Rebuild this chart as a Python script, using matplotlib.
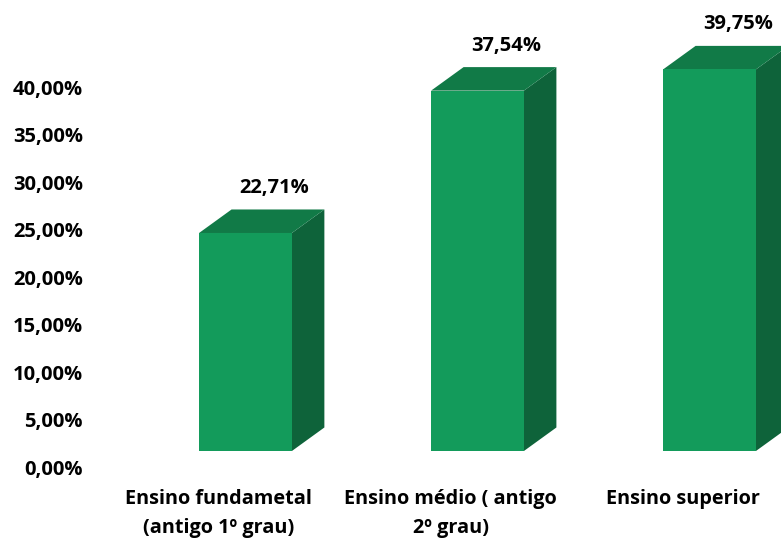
import matplotlib.pyplot as plt
from matplotlib.patches import Polygon, Rectangle

plt.rcParams["font.family"] = ["Open Sans", "DejaVu Sans"]

categories = [
    "Ensino fundametal\n(antigo 1º grau)",
    "Ensino médio ( antigo\n2º grau)",
    "Ensino superior",
]
values = [22.71, 37.54, 39.75]
tick_values = [0, 5, 10, 15, 20, 25, 30, 35, 40]

FRONT = "#139b5b"
TOP = "#117a47"
SIDE = "#0e633a"
BAR_W = 0.4
DEPTH_X = 0.14
DEPTH_Y = 2.45

fig = plt.figure(figsize=(7.81, 5.40), dpi=100)

# bars, full-figure axes with limits picked so the front faces land in place
ax = fig.add_axes([0, 0, 1, 1])
ax.set_xlim(-1.058, 2.308)
ax.set_ylim(-9.27, 46.98)
ax.axis("off")

for i, v in enumerate(values):
    left = i - BAR_W / 2
    right = i + BAR_W / 2
    ax.add_patch(Polygon(
        [(right, 0), (right + DEPTH_X, DEPTH_Y), (right + DEPTH_X, v + DEPTH_Y), (right, v)],
        closed=True, facecolor=SIDE, edgecolor="none"))
    ax.add_patch(Polygon(
        [(left, v), (left + DEPTH_X, v + DEPTH_Y), (right + DEPTH_X, v + DEPTH_Y), (right, v)],
        closed=True, facecolor=TOP, edgecolor="none"))
    ax.add_patch(Rectangle((left, 0), BAR_W, v, facecolor=FRONT, edgecolor="none"))
    ax.annotate(f"{v:.2f}%".replace(".", ","), xy=(i, v), xytext=(29, 45),
                textcoords="offset pixels", ha="center", va="center",
                fontsize=14.5, fontweight="bold", color="black")
    ax.annotate(categories[i], xy=(i, 0), xytext=(-27, -38),
                textcoords="offset pixels", ha="center", va="top",
                fontsize=14.3, fontweight="bold", color="black",
                linespacing=1.6, multialignment="center")

# value axis labels (they sit a little below the bar fronts, like Excel 3D)
ax_t = fig.add_axes([83 / 781, 0, 0.001, 1])
ax_t.set_ylim(-7.684, 49.16)
ax_t.set_yticks(tick_values)
ax_t.set_yticklabels([f"{t:.2f}%".replace(".", ",") for t in tick_values],
                     fontsize=14.5, fontweight="bold")
ax_t.tick_params(axis="y", length=0, pad=0)
ax_t.set_xticks([])
for s in ax_t.spines.values():
    s.set_visible(False)
ax_t.patch.set_visible(False)

fig.savefig("out.png", dpi=100)
